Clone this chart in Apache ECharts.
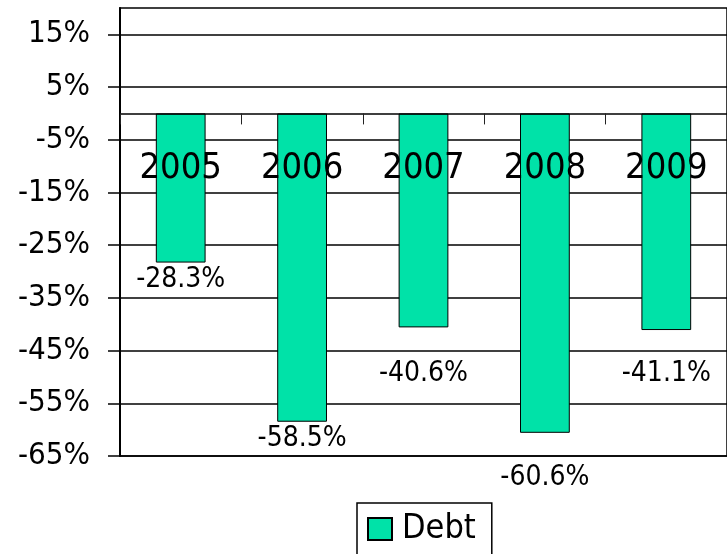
<!DOCTYPE html>
<html>
<head>
<meta charset="utf-8">
<script src="https://cdn.jsdelivr.net/npm/echarts@6/dist/echarts.min.js"></script>
<style>
html,body{margin:0;padding:0;background:#fff;}
#chart{width:727px;height:554px;}
</style>
</head>
<body>
<div id="chart"></div>
<script>
const years = ['2005', '2006', '2007', '2008', '2009'];
const debt = [-28.3, -58.5, -40.6, -60.6, -41.1];
const yTicks = [-65, -55, -45, -35, -25, -15, -5, 5, 15];
const seriesName = 'Debt';

// label gap below each bar end (style only)
const labelGap = [3, 3, 32, 31, 30];

const FONT = "'DejaVu Sans Condensed', 'DejaVu Sans', sans-serif";
const chart = echarts.init(document.getElementById('chart'));
chart.setOption({
  backgroundColor: '#fff',
  animation: false,
  textStyle: { fontFamily: FONT, color: '#000' },
  grid: {
    left: 120, right: -8, top: 8, bottom: 98,
    show: true, borderColor: '#000', borderWidth: 1.5, backgroundColor: 'transparent'
  },
  legend: {
    data: [seriesName],
    left: 357, top: 503,
    orient: 'horizontal',
    icon: 'rect',
    itemWidth: 24, itemHeight: 22,
    borderColor: '#000', borderWidth: 1.5,
    padding: [9, 16, 14, 10],
    textStyle: { fontFamily: FONT, fontSize: 34, color: '#000', padding: [0, 0, 0, 5] }
  },
  xAxis: {
    type: 'category',
    data: years,
    z: 10,
    axisLine: { onZero: true, lineStyle: { color: '#000', width: 1.5 } },
    axisTick: { show: true, alignWithLabel: false, length: 11, lineStyle: { color: '#222', width: 1 } },
    axisLabel: { fontFamily: FONT, fontSize: 36, color: '#000', margin: -305 },
    splitLine: { show: false }
  },
  yAxis: {
    type: 'value',
    min: -65, max: 20, interval: 10,
    axisLine: { show: true, onZero: false, lineStyle: { color: '#000', width: 2 } },
    axisTick: { show: true, length: 12, customValues: yTicks, lineStyle: { color: '#000', width: 1.5 } },
    axisLabel: { fontFamily: FONT, fontSize: 31, color: '#000', margin: 30, customValues: yTicks,
      formatter: v => v + '%' },
    splitLine: { show: true, lineStyle: { color: '#000', width: 1.5 } }
  },
  series: [{
    name: seriesName,
    type: 'bar',
    barWidth: '41%',
    itemStyle: { color: '#00E2A8', borderColor: '#000', borderWidth: 1 },
    label: {
      show: true, position: 'bottom', fontFamily: FONT, fontSize: 28, color: '#000',
      formatter: p => p.value.toFixed(1) + '%'
    },
    data: debt.map((v, i) => ({ value: v, label: { distance: labelGap[i] } }))
  }]
});
</script>
</body>
</html>
